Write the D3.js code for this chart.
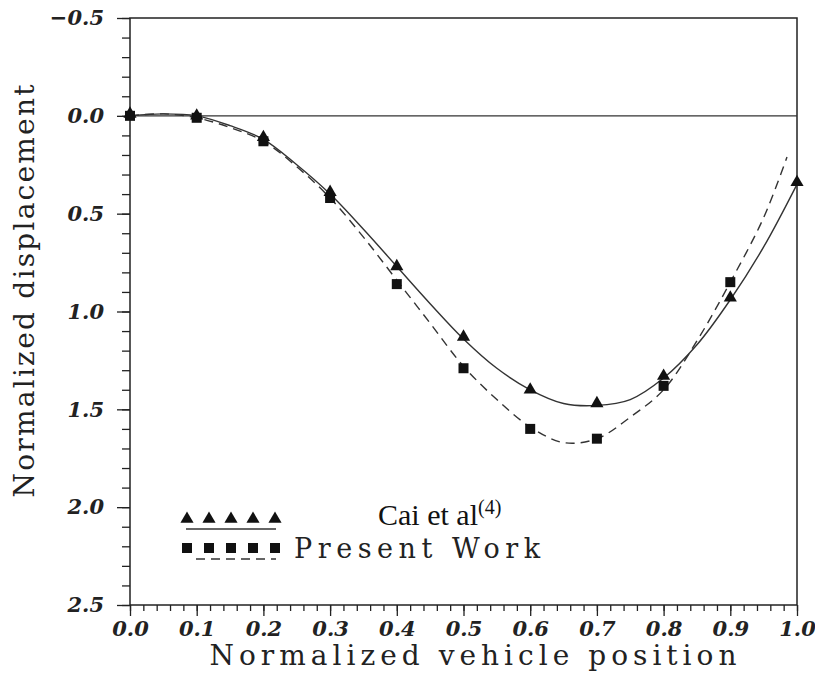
<!DOCTYPE html>
<html>
<head>
<meta charset="utf-8">
<script src="https://cdn.jsdelivr.net/npm/d3@7"></script>
<style>
  body { margin: 0; background: #fff; }
  svg { display: block; }
</style>
</head>
<body>
<svg id="chart" width="815" height="677"></svg>
<script>
// measured points (x = normalized vehicle position)
const positions = [0.0, 0.1, 0.2, 0.3, 0.4, 0.5, 0.6, 0.7, 0.8, 0.9, 1.0];
const caiPoints = [0.0, 0.01, 0.12, 0.40, 0.78, 1.14, 1.41, 1.48, 1.34, 0.94, 0.35];
const presentPoints = [0.0, 0.01, 0.13, 0.42, 0.86, 1.29, 1.60, 1.65, 1.38, 0.85];

// fitted curves
const curveX = [0.0, 0.05, 0.1, 0.15, 0.2, 0.25, 0.3, 0.35, 0.4, 0.45, 0.5, 0.55, 0.6, 0.65, 0.7, 0.75, 0.8, 0.85, 0.9, 0.95, 1.0];
const caiCurve = [0.0, -0.01, 0.0, 0.05, 0.12, 0.25, 0.40, 0.58, 0.77, 0.96, 1.14, 1.29, 1.40, 1.47, 1.48, 1.45, 1.34, 1.17, 0.94, 0.67, 0.35];
const presentCurveX = [0.0, 0.05, 0.1, 0.15, 0.2, 0.25, 0.3, 0.35, 0.4, 0.45, 0.5, 0.55, 0.6, 0.65, 0.7, 0.75, 0.8, 0.85, 0.9, 0.95, 0.985];
const presentCurve = [0.0, -0.01, 0.01, 0.06, 0.13, 0.26, 0.42, 0.62, 0.84, 1.06, 1.28, 1.45, 1.59, 1.67, 1.65, 1.54, 1.40, 1.15, 0.85, 0.52, 0.21];

const yMajor = [-0.5, 0.0, 0.5, 1.0, 1.5, 2.0, 2.5];
const xMajor = [0.0, 0.1, 0.2, 0.3, 0.4, 0.5, 0.6, 0.7, 0.8, 0.9, 1.0];

const svg = d3.select("#chart");
const plotLeft = 130, plotRight = 797, plotTop = 18, plotBottom = 605;

const x = d3.scaleLinear().domain([0, 1]).range([plotLeft, plotRight]);
const y = d3.scaleLinear().domain([-0.5, 2.5]).range([plotTop, plotBottom]);

const serif = "'DejaVu Serif', serif";

// frame
svg.append("rect")
    .attr("x", plotLeft).attr("y", plotTop)
    .attr("width", plotRight - plotLeft).attr("height", plotBottom - plotTop)
    .style("fill", "none").style("stroke", "#222").style("stroke-width", 1.5);

// zero line
svg.append("line")
    .attr("x1", x(0)).attr("x2", x(1))
    .attr("y1", y(0)).attr("y2", y(0))
    .style("stroke", "#333").style("stroke-width", 1.2);

// y axis: minor then major
const yMinor = d3.range(-5, 26).map(d => d / 10);
svg.append("g")
    .attr("transform", `translate(${plotLeft},0)`)
    .call(d3.axisLeft(y).tickValues(yMinor).tickSize(8).tickFormat(""))
    .call(g => g.select(".domain").remove());
svg.append("g")
    .attr("class", "y-major")
    .attr("transform", `translate(${plotLeft},0)`)
    .call(d3.axisLeft(y).tickValues(yMajor).tickSize(13).tickPadding(13)
        .tickFormat(d => d < 0 ? "\u2212" + Math.abs(d).toFixed(1) : d.toFixed(1)))
    .call(g => g.select(".domain").remove());

// x axis: minor then major
const xMinor = d3.range(0, 51).map(d => d / 50);
svg.append("g")
    .attr("transform", `translate(0,${plotBottom})`)
    .call(d3.axisBottom(x).tickValues(xMinor).tickSize(6).tickFormat(""))
    .call(g => g.select(".domain").remove());
svg.append("g")
    .attr("class", "x-major")
    .attr("transform", `translate(0,${plotBottom})`)
    .call(d3.axisBottom(x).tickValues(xMajor).tickSize(11).tickPadding(5)
        .tickFormat(d => d.toFixed(1)))
    .call(g => g.select(".domain").remove());

svg.selectAll(".tick line").style("stroke", "#222").style("stroke-width", 1.3);
svg.selectAll(".y-major text, .x-major text")
    .style("font-family", serif)
    .style("font-style", "italic")
    .style("font-weight", "bold")
    .style("font-size", "21px")
    .style("fill", "#222");

// curves
const line = d3.line().x(d => x(d[0])).y(d => y(d[1])).curve(d3.curveCatmullRom);
svg.append("path")
    .datum(curveX.map((v, i) => [v, caiCurve[i]]))
    .attr("d", line)
    .style("fill", "none").style("stroke", "#333").style("stroke-width", 1.4);
svg.append("path")
    .datum(presentCurveX.map((v, i) => [v, presentCurve[i]]))
    .attr("d", line)
    .style("fill", "none").style("stroke", "#333").style("stroke-width", 1.4)
    .style("stroke-dasharray", "9,6");

// markers
const tri = d3.symbol().type(d3.symbolTriangle).size(75);
svg.selectAll(".tri")
    .data(caiPoints.map((v, i) => [positions[i], v]))
    .enter().append("path")
    .attr("class", "tri")
    .attr("d", tri)
    .attr("transform", d => `translate(${x(d[0])},${y(d[1]) - 2})`)
    .style("fill", "#111");

svg.selectAll(".sq")
    .data(presentPoints.map((v, i) => [positions[i], v]))
    .enter().append("rect")
    .attr("class", "sq")
    .attr("x", d => x(d[0]) - 5).attr("y", d => y(d[1]) - 5)
    .attr("width", 10).attr("height", 10)
    .style("fill", "#111");

// legend
const legendX = [187, 209, 231, 253, 275];
const lg = svg.append("g");
legendX.forEach(lx => {
    lg.append("path").attr("d", tri).attr("transform", `translate(${lx},519)`).style("fill", "#111");
    lg.append("rect").attr("x", lx - 5).attr("y", 543).attr("width", 10).attr("height", 10).style("fill", "#111");
});
lg.append("line").attr("x1", 186).attr("x2", 276).attr("y1", 529).attr("y2", 529)
    .style("stroke", "#333").style("stroke-width", 1.4);
lg.append("line").attr("x1", 196).attr("x2", 276).attr("y1", 559).attr("y2", 559)
    .style("stroke", "#333").style("stroke-width", 1.4).style("stroke-dasharray", "9,6");

const cai = lg.append("text")
    .attr("x", 378).attr("y", 525)
    .style("font-family", "'Liberation Serif', 'Times New Roman', serif")
    .style("font-size", "30px").style("fill", "#111");
cai.append("tspan").text("Cai et al");
cai.append("tspan").attr("dy", -11).style("font-size", "20px").text("(4)");

lg.append("text")
    .attr("x", 294).attr("y", 558)
    .attr("textLength", 246).attr("lengthAdjust", "spacing")
    .style("font-family", serif)
    .style("font-size", "27px").style("fill", "#222")
    .text("Present Work");

// axis titles
svg.append("text")
    .attr("x", 473).attr("y", 665)
    .attr("text-anchor", "middle")
    .attr("textLength", 527).attr("lengthAdjust", "spacing")
    .style("font-family", serif)
    .style("font-size", "28px").style("fill", "#222")
    .text("Normalized vehicle position");

svg.append("text")
    .attr("transform", "translate(34,291) rotate(-90)")
    .attr("text-anchor", "middle")
    .attr("textLength", 413).attr("lengthAdjust", "spacing")
    .style("font-family", serif)
    .style("font-size", "28px").style("fill", "#222")
    .text("Normalized displacement");
</script>
</body>
</html>
